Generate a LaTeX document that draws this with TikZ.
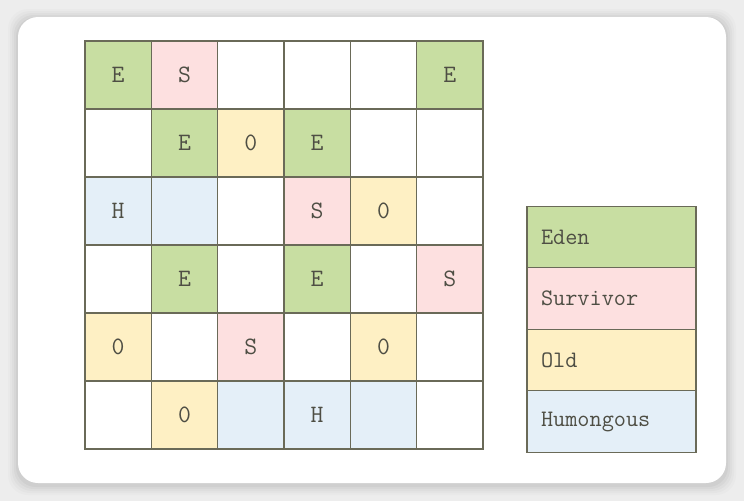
\documentclass[tikz,border=0pt]{standalone}
\usepackage{fontspec}
\newfontfamily\gridfont{Latin Modern Mono}
\definecolor{bgc}{HTML}{EDEDED}
\definecolor{edenc}{HTML}{C8DEA2}
\definecolor{survc}{HTML}{FDE0E0}
\definecolor{oldc}{HTML}{FEF0C4}
\definecolor{humc}{HTML}{E4EFF8}
\definecolor{linec}{HTML}{6A6A58}
\definecolor{textc}{HTML}{4E4E44}
\begin{document}
\begin{tikzpicture}[x=1pt,y=-1pt,
  cell/.style={draw=linec,line width=1.3pt,minimum width=66.33pt,minimum height=68pt,inner sep=0pt,outer sep=0pt,
    font=\gridfont\fontsize{25}{25}\selectfont,text=textc},
  E/.style={cell,fill=edenc}, S/.style={cell,fill=survc}, O/.style={cell,fill=oldc}, H/.style={cell,fill=humc}, W/.style={cell,fill=white},
  leg/.style={draw=linec,line width=1.3pt,minimum width=169pt,minimum height=61.5pt,inner sep=0pt,outer sep=0pt,
    text width=141pt,align=left,font=\gridfont\fontsize{23.6}{23.6}\selectfont,text=textc}]
\useasboundingbox (0,0) rectangle (744,501);
\fill[bgc] (0,0) rectangle (744,501);
% card shadow
\foreach \i/\o in {10/0.015,8/0.02,6/0.025,4/0.03,2/0.035}{
  \fill[black,opacity=\o,rounded corners=20pt] (18-\i,17-\i+2) rectangle (726+\i,483+\i+2);
}
\fill[white,rounded corners=20pt] (18,17) rectangle (726,483);
% grid
\foreach \r/\row in {0/{E/E,S/S,W/,W/,W/,E/E},1/{W/,E/E,O/0,E/E,W/,W/},2/{H/H,H/,W/,S/S,O/0,W/},3/{W/,E/E,W/,E/E,W/,S/S},4/{O/0,W/,S/S,W/,O/0,W/},5/{W/,O/0,H/,H/H,H/,W/}}{
  \foreach \st/\tx [count=\c from 0] in \row {
    \node[\st] (g\r\c) at ({85+66.33*\c+33.17},{41+68*\r+34}) {\tx};
  }
}
% legend
\node[leg,fill=edenc] (le) at (611.5,237) {Eden};
\node[leg,fill=survc] (ls) at (611.5,298.5) {Survivor};
\node[leg,fill=oldc] (lo) at (611.5,360) {Old};
\node[leg,fill=humc] (lh) at (611.5,421.5) {Humongous};
\end{tikzpicture}
\end{document}
